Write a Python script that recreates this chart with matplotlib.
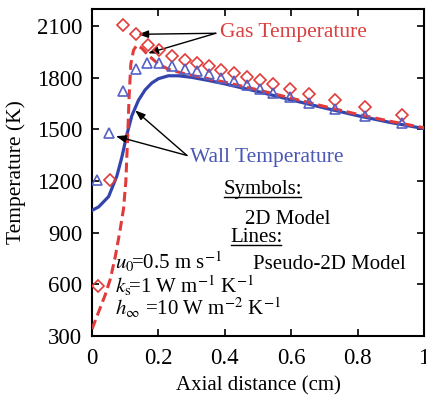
import matplotlib
matplotlib.use('Agg')
import matplotlib.pyplot as plt
from matplotlib.lines import Line2D

plt.rcParams['font.family'] = ['Liberation Serif', 'DejaVu Serif']
plt.rcParams['mathtext.fontset'] = 'stix'

# Pseudo-2D model (lines)
wall_line_x = [0.0, 0.02, 0.05, 0.075, 0.09, 0.105, 0.12, 0.14, 0.16, 0.18, 0.20, 0.23,
               0.26, 0.30, 0.35, 0.40, 0.50, 0.60, 0.70, 0.80, 0.90, 1.0]
wall_line_y = [1030, 1050, 1110, 1230, 1340, 1470, 1580, 1670, 1730, 1770, 1795, 1812,
               1812, 1803, 1785, 1765, 1720, 1672, 1625, 1580, 1540, 1505]

gas_line_x = [0.0, 0.02, 0.04, 0.055, 0.07, 0.085, 0.095, 0.102, 0.107, 0.112, 0.117,
              0.125, 0.135, 0.15, 0.17, 0.20, 0.23, 0.27, 0.30, 0.35, 0.40, 0.50, 0.60,
              0.70, 0.80, 0.90, 1.0]
gas_line_y = [340, 440, 540, 630, 760, 920, 1040, 1200, 1440, 1700, 1880,
              1960, 1990, 1972, 1930, 1880, 1850, 1828, 1815, 1795, 1775, 1730, 1682,
              1634, 1588, 1547, 1510]

# 2D model (symbols)
gas_pts_x = [0.017, 0.054, 0.094, 0.132, 0.170, 0.203, 0.242, 0.280, 0.315, 0.352,
             0.390, 0.428, 0.467, 0.506, 0.546, 0.595, 0.654, 0.731, 0.823, 0.934]
gas_pts_y = [590, 1205, 2105, 2053, 1990, 1960, 1927, 1904, 1888, 1870,
             1846, 1830, 1803, 1785, 1762, 1737, 1708, 1670, 1630, 1582]

wall_pts_x = [0.016, 0.052, 0.092, 0.132, 0.167, 0.203, 0.242, 0.280, 0.315, 0.352,
              0.390, 0.428, 0.467, 0.506, 0.546, 0.595, 0.654, 0.731, 0.823, 0.934]
wall_pts_y = [1209, 1477, 1725, 1852, 1886, 1886, 1869, 1853, 1837, 1820,
              1800, 1781, 1756, 1737, 1712, 1687, 1651, 1617, 1578, 1537]

xticks = [0, 0.2, 0.4, 0.6, 0.8, 1]
xticklabels = ['0', '0.2', '0.4', '0.6', '0.8', '1']
yticks = [300, 600, 900, 1200, 1500, 1800, 2100]

RED = '#e23b3b'
BLUE = '#3345ad'
RED_T = '#d94040'
BLUE_T = '#4a57b5'

fig = plt.figure(figsize=(4.26, 3.98), dpi=100)
ax = fig.add_axes([92/426, 1-336/398, 332/426, 327/398])

ax.plot(wall_line_x, wall_line_y, color=BLUE, lw=2.3, zorder=3)
ax.plot(gas_line_x, gas_line_y, color=RED, lw=2.2, dashes=(3.2, 1.6), zorder=3)
ax.plot(gas_pts_x, gas_pts_y, ls='none', marker='D', ms=6, mfc='none', mec=RED,
        mew=1.2, zorder=4)
ax.plot(wall_pts_x, wall_pts_y, ls='none', marker='^', ms=7, mfc='none', mec='#5561c4',
        mew=1.2, zorder=4)

ax.set_xlim(0, 1)
ax.set_ylim(300, 2200)
ax.set_xticks(xticks)
ax.set_xticklabels(xticklabels)
ax.set_yticks(yticks)
ax.tick_params(direction='in', length=5, width=1.2, top=True, right=True,
               labelsize=16.5)
ax.tick_params(axis='x', pad=9)
ax.tick_params(axis='y', pad=7)
for s in ax.spines.values():
    s.set_linewidth(1.5)

ax.set_xlabel('Axial distance (cm)', fontsize=15, labelpad=5)
ax.set_ylabel('Temperature (K)', fontsize=15.5, labelpad=8)

arrow = dict(arrowstyle='-|>,head_length=0.6,head_width=0.22', color='black', lw=1.0,
             shrinkA=0, shrinkB=0)
ax.text(0.386, 2065, 'Gas Temperature', color=RED_T, fontsize=15.5, ha='left', va='center')
ax.annotate('', xy=(0.139, 2053), xytext=(0.373, 2059), arrowprops=arrow)
ax.annotate('', xy=(0.169, 1943), xytext=(0.373, 2059), arrowprops=arrow)

ax.text(0.295, 1337, 'Wall Temperature', color=BLUE_T, fontsize=15.5, ha='left', va='center')
ax.annotate('', xy=(0.072, 1461), xytext=(0.286, 1349), arrowprops=arrow)
ax.annotate('', xy=(0.13, 1611), xytext=(0.286, 1349), arrowprops=arrow)

t_sym = ax.text(0.395, 1150, 'Symbols:', fontsize=15, ha='left', va='center')
ax.text(0.461, 976, '2D Model', fontsize=15, ha='left', va='center')
t_lin = ax.text(0.416, 871, 'Lines:', fontsize=15, ha='left', va='center')
ax.text(0.485, 714, 'Pseudo-2D Model', fontsize=15, ha='left', va='center')

ax.text(0.069, 728, r'$u_0\!$=0.5 m s$^{-1}$', fontsize=15, ha='left', va='center')
ax.text(0.069, 588, r'$k_{\rm s}\!$=1 W m$^{-1}$ K$^{-1}$', fontsize=15, ha='left', va='center')
ax.text(0.069, 463, r'$h_\infty$ =10 W m$^{-2}$ K$^{-1}$', fontsize=15, ha='left', va='center')

fig.canvas.draw()
r = fig.canvas.get_renderer()
inv = fig.transFigure.inverted()
for t in (t_sym, t_lin):
    bb = t.get_window_extent(renderer=r)
    (x0, y0) = inv.transform((bb.x0 + 1, bb.y0 + 2))
    (x1, _) = inv.transform((bb.x1 - 1, bb.y0 + 2))
    fig.add_artist(Line2D([x0, x1], [y0, y0], color='black', lw=1.0,
                          transform=fig.transFigure))

fig.savefig('out.png', dpi=100)
